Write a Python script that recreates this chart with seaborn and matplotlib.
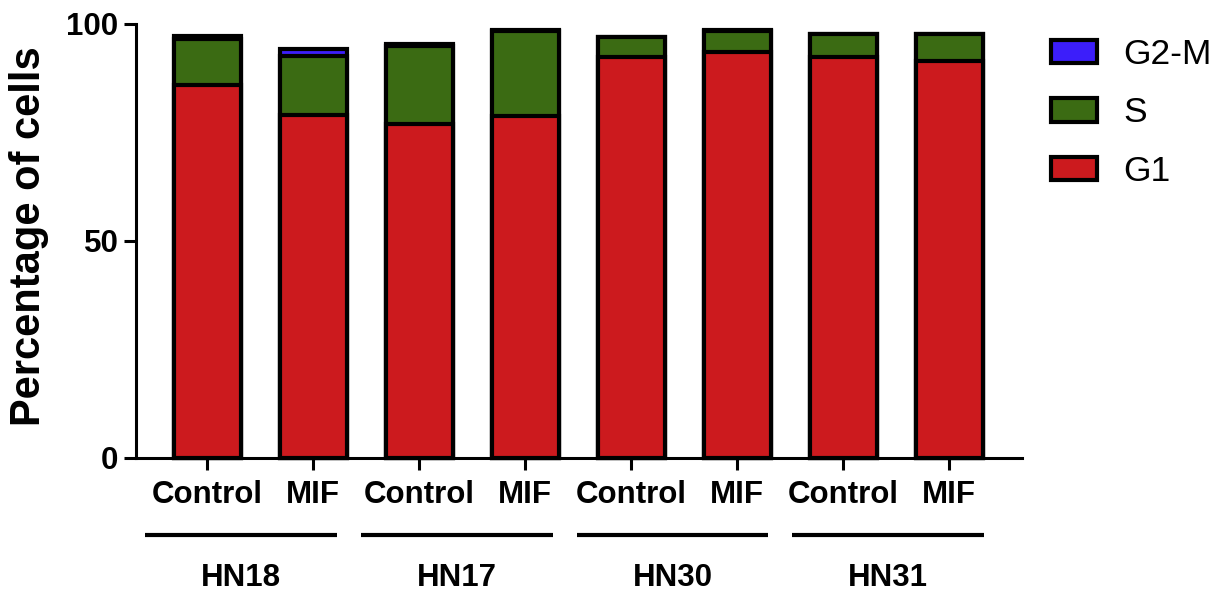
import pandas as pd
import seaborn as sns
import matplotlib.pyplot as plt
from matplotlib.patches import Patch
from matplotlib.transforms import blended_transform_factory

sns.set_theme(style='white')
plt.rcParams['font.family'] = ['Liberation Sans', 'DejaVu Sans']
plt.rcParams['text.color'] = 'black'
plt.rcParams['axes.labelcolor'] = 'black'
plt.rcParams['xtick.color'] = 'black'
plt.rcParams['ytick.color'] = 'black'

# data (percent of cells)
lines = ['HN18', 'HN17', 'HN30', 'HN31']
conditions = ['Control', 'MIF'] * 4
g1 = [85.8, 78.9, 76.9, 78.8, 92.2, 93.4, 92.2, 91.4]
s_phase = [10.6, 13.7, 17.9, 19.4, 4.6, 4.9, 5.4, 6.2]
g2m = [0.8, 1.6, 0.5, 0.2, 0.1, 0.1, 0.1, 0.1]

red = '#CC1A1E'
green = '#3B6B13'
blue = '#3C1EFA'

samples = [f'{lines[i // 2]} {conditions[i]}' for i in range(8)]
df = pd.DataFrame({'sample': samples, 'G1': g1, 'S': s_phase, 'G2-M': g2m})
df['G1+S'] = df['G1'] + df['S']
df['total'] = df['G1+S'] + df['G2-M']

fig = plt.figure(figsize=(12.16, 5.94), dpi=100)
ax = fig.add_axes([0.1118, 0.2290, 0.7284, 0.7314])

# stacked bars drawn back to front
for col, c in [('total', blue), ('G1+S', green), ('G1', red)]:
    sns.barplot(data=df, x='sample', y=col, order=samples, color=c,
                width=0.63, edgecolor='black', linewidth=3, ax=ax,
                saturation=1)
for p in ax.patches:
    p.set_clip_on(False)

ax.set_xlim(-0.673, 7.683)
ax.set_ylim(0, 100)
ax.set_yticks([0, 50, 100])
ax.set_xticks(range(8))
ax.set_xticklabels(conditions)
ax.set_xlabel('')
ax.set_ylabel('Percentage of cells', fontsize=30, fontweight='bold')
ax.yaxis.set_label_coords(-0.098, 0.51)

for side in ['top', 'right']:
    ax.spines[side].set_visible(False)
for side in ['left', 'bottom']:
    ax.spines[side].set_linewidth(2.2)
    ax.spines[side].set_color('black')

ax.tick_params(axis='both', length=8.5, width=2.2, color='black',
               labelcolor='black', labelsize=22.5, direction='out')
ax.tick_params(axis='x', pad=7)
ax.tick_params(axis='y', pad=4)
ax.xaxis.set_ticks_position('bottom')
ax.yaxis.set_ticks_position('left')
for lab in ax.get_xticklabels() + ax.get_yticklabels():
    lab.set_fontweight('bold')

# group lines and cell line names under the bars
trans = blended_transform_factory(ax.transData, ax.transAxes)
for i, name in enumerate(lines):
    x0 = -0.588 + 2.036 * i
    x1 = x0 + 1.81
    ax.plot([x0, x1], [-0.178, -0.178], color='black', lw=3,
            transform=trans, clip_on=False, solid_capstyle='butt')
    ax.text((x0 + x1) / 2, -0.277, name, transform=trans, ha='center',
            va='center', fontsize=22.5, fontweight='bold', color='black')

handles = [Patch(facecolor=blue, edgecolor='black', linewidth=3, label='G2-M'),
           Patch(facecolor=green, edgecolor='black', linewidth=3, label='S'),
           Patch(facecolor=red, edgecolor='black', linewidth=3, label='G1')]
fig.legend(handles=handles, loc='upper left',
           bbox_to_anchor=(1051 / 1216, 1 - 38 / 594), frameon=False,
           fontsize=25.5, handlelength=1.3, handleheight=0.63,
           handletextpad=0.75, labelspacing=0.72, borderpad=0,
           borderaxespad=0, labelcolor='black')

fig.savefig('out.png', dpi=100)
